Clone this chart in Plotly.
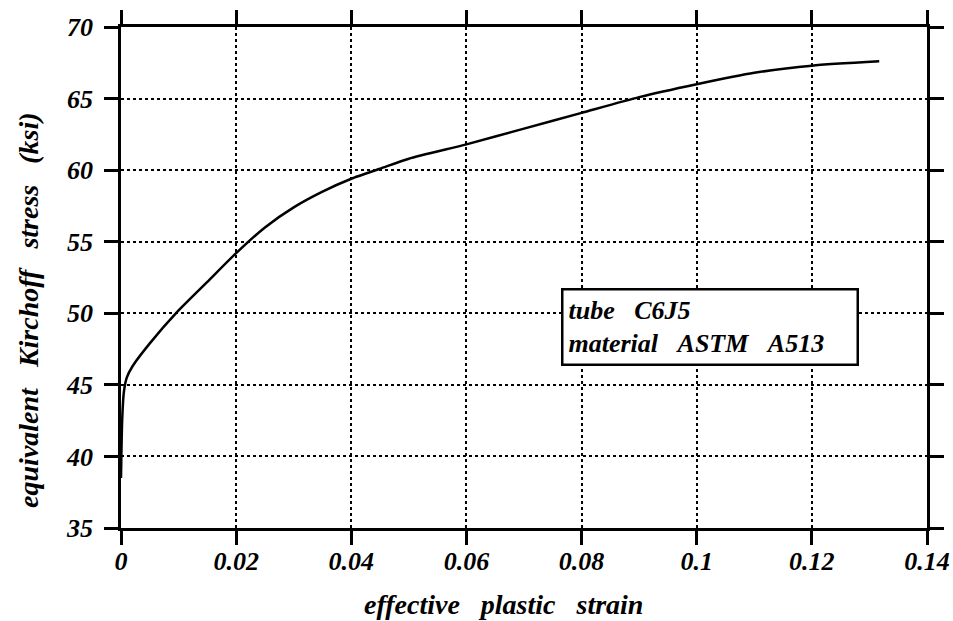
import plotly.graph_objects as go

strain = [0.0, 0.0002, 0.0005, 0.001, 0.002, 0.005, 0.01, 0.015, 0.02, 0.025, 0.03, 0.035,
          0.04, 0.045, 0.05, 0.06, 0.07, 0.08, 0.09, 0.1, 0.11, 0.12, 0.1317]
stress = [38.5, 42.5, 44.5, 45.5, 46.3, 47.9, 50.2, 52.2, 54.2, 56.0, 57.4, 58.5,
          59.4, 60.1, 60.8, 61.8, 62.9, 64.0, 65.1, 66.0, 66.8, 67.3, 67.6]

x_ticks = [0, 0.02, 0.04, 0.06, 0.08, 0.1, 0.12, 0.14]
x_labels = ["0", "0.02", "0.04", "0.06", "0.08", "0.1", "0.12", "0.14"]
y_ticks = [35, 40, 45, 50, 55, 60, 65, 70]

FONT = "Liberation Serif"
nb = "\u00a0"
bi = dict(family=FONT, color="black", weight="bold", style="italic")

fig = go.Figure()
fig.add_trace(go.Scatter(x=strain, y=stress, mode="lines",
                         line=dict(color="black", width=2.5, shape="spline", smoothing=0.6),
                         showlegend=False, hoverinfo="skip"))

axis_common = dict(showline=True, linecolor="black", linewidth=2.5, mirror="ticks",
                   ticks="outside", ticklen=14, tickwidth=2.5, tickcolor="black",
                   showgrid=True, gridcolor="black", griddash="dot", gridwidth=1.5,
                   zeroline=False, automargin=False, ticklabeloverflow="allow",
                   tickfont=dict(size=26, **bi))

fig.update_xaxes(range=[0, 0.14], tickvals=x_ticks, ticktext=x_labels,
                 ticklabelstandoff=-6, **axis_common)
fig.update_yaxes(range=[35, 70], tickvals=y_ticks, ticklabelstandoff=6, **axis_common)

fig.add_annotation(xref="paper", yref="paper", x=0.475, y=-0.152, xanchor="center", yanchor="middle",
                   text=f"effective{nb*3}plastic{nb*3}strain", showarrow=False,
                   font=dict(size=28, **bi))
fig.add_annotation(xref="paper", yref="paper", x=-0.115, y=0.434, xanchor="center", yanchor="middle",
                   text=f"equivalent{nb*3}Kirchoff{nb*3}stress{nb*3}(ksi)", showarrow=False,
                   textangle=-90, font=dict(size=28, **bi))

fig.add_annotation(xref="paper", yref="paper", x=0.546, y=0.479, xanchor="left", yanchor="top",
                   text=f"tube{nb*3}C6J5<br>material{nb*3}ASTM{nb*3}A513",
                   align="left", showarrow=False, bgcolor="white",
                   width=283, height=63,
                   bordercolor="black", borderwidth=2.5, borderpad=5,
                   font=dict(size=26, **bi))

fig.update_layout(width=953, height=621, margin=dict(l=121, r=26, t=27, b=93),
                  plot_bgcolor="white", paper_bgcolor="white")

# remove the default page margin so the 953x621 figure fills the window exactly
fig.write_html("out.html", config={"displayModeBar": False},
               post_script="document.body.style.margin='0';document.body.style.overflow='hidden';")
